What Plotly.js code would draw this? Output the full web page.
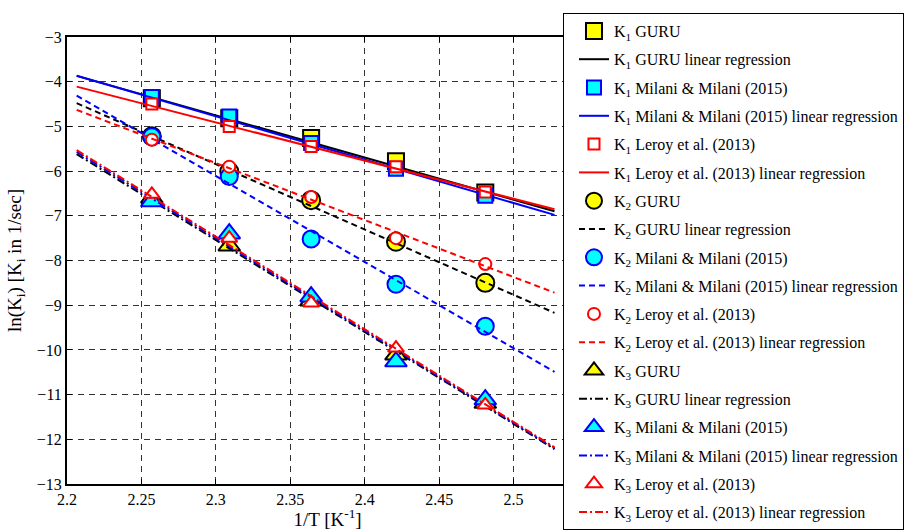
<!DOCTYPE html>
<html>
<head>
<meta charset="utf-8">
<script src="https://cdn.plot.ly/plotly-3.0.1.min.js"></script>
<style>
html,body{margin:0;padding:0;background:#fff;}
#chart{width:904px;height:530px;}
</style>
</head>
<body>
<div id="chart"></div>
<script>
// Inverse temperature (1/T, 10^-3 K^-1)
const invT = [2.257, 2.309, 2.364, 2.421, 2.481];

// ln(K) measured values
const k1Guru   = [-4.37, -4.82, -5.26, -5.78, -6.48];
const k1Milani = [-4.34, -4.78, -5.37, -5.95, -6.55];
const k1Leroy  = [-4.50, -5.00, -5.45, -5.90, -6.47];

const k2Guru   = [-5.22, -6.01, -6.65, -7.58, -8.50];
const k2Milani = [-5.23, -6.12, -7.52, -8.53, -9.47];
const k2Leroy  = [-5.30, -5.90, -6.58, -7.50, -8.08];

const k3Guru   = [-6.60, -7.67, -8.90, -10.11, -11.19];
const k3Milani = [-6.68, -7.40, -8.81, -10.26, -11.11];
const k3Leroy  = [-6.52, -7.50, -8.95, -9.96, -11.23];

// Regression line end points
const fitX = [2.2065, 2.5275];
const k1GuruFit   = [-3.87, -6.90];
const k1MilaniFit = [-3.866, -6.98];
const k1LeroyFit  = [-4.11, -6.855];
const k2GuruFit   = [-4.48, -9.17];
const k2MilaniFit = [-4.31, -10.49];
const k2LeroyFit  = [-4.63, -8.72];
const k3GuruFit   = [-5.62, -12.22];
const k3MilaniFit = [-5.57, -12.20];
const k3LeroyFit  = [-5.53, -12.18];

const labels = [
  'K<sub>1</sub> GURU', 'K<sub>1</sub> GURU linear regression',
  'K<sub>1</sub> Milani &amp; Milani (2015)', 'K<sub>1</sub> Milani &amp; Milani (2015) linear regression',
  'K<sub>1</sub> Leroy et al. (2013)', 'K<sub>1</sub> Leroy et al. (2013) linear regression',
  'K<sub>2</sub> GURU', 'K<sub>2</sub> GURU linear regression',
  'K<sub>2</sub> Milani &amp; Milani (2015)', 'K<sub>2</sub> Milani &amp; Milani (2015) linear regression',
  'K<sub>2</sub> Leroy et al. (2013)', 'K<sub>2</sub> Leroy et al. (2013) linear regression',
  'K<sub>3</sub> GURU', 'K<sub>3</sub> GURU linear regression',
  'K<sub>3</sub> Milani &amp; Milani (2015)', 'K<sub>3</sub> Milani &amp; Milani (2015) linear regression',
  'K<sub>3</sub> Leroy et al. (2013)', 'K<sub>3</sub> Leroy et al. (2013) linear regression'
];

const DASH = '6px,4px';
const DASHDOT = '8px,3px,2px,3px';

function pts(i, y, symbol, size, fill, edge, bw) {
  return {x: invT, y: y, name: labels[i], legendgroup: 'g' + i, mode: 'markers', type: 'scatter',
    marker: {symbol: symbol, size: size, color: fill, line: {color: edge, width: bw}}};
}
function fit(i, y, color, dash) {
  return {x: fitX, y: y, name: labels[i], legendgroup: 'g' + i, mode: 'lines', type: 'scatter',
    line: {color: color, width: 2, dash: dash}};
}

const traces = [
  pts(0, k1Guru, 'square', 16, '#ffff00', '#000000', 2),
  fit(1, k1GuruFit, '#000000', 'solid'),
  pts(2, k1Milani, 'square', 14, '#00ffff', '#0000ff', 2),
  fit(3, k1MilaniFit, '#0000ff', 'solid'),
  pts(4, k1Leroy, 'square', 11, '#ffffff', '#ff0000', 2),
  fit(5, k1LeroyFit, '#ff0000', 'solid'),
  pts(6, k2Guru, 'circle', 18, '#ffff00', '#000000', 2),
  fit(7, k2GuruFit, '#000000', DASH),
  pts(8, k2Milani, 'circle', 17, '#00ffff', '#0000ff', 2),
  fit(9, k2MilaniFit, '#0000ff', DASH),
  pts(10, k2Leroy, 'circle', 12, '#ffffff', '#ff0000', 2),
  fit(11, k2LeroyFit, '#ff0000', DASH),
  pts(12, k3Guru, 'triangle-up', 19, '#ffff00', '#000000', 2),
  fit(13, k3GuruFit, '#000000', DASHDOT),
  pts(14, k3Milani, 'triangle-up', 19, '#00ffff', '#0000ff', 2),
  fit(15, k3MilaniFit, '#0000ff', DASHDOT),
  pts(16, k3Leroy, 'triangle-up', 14, '#ffffff', '#ff0000', 2),
  fit(17, k3LeroyFit, '#ff0000', DASHDOT)
];

function axisCommon() {
  return {
    showline: true, linecolor: '#000', linewidth: 2, mirror: 'ticks',
    ticks: 'inside', ticklen: 5, tickcolor: '#000', tickwidth: 1,
    showgrid: true, gridcolor: '#333333', gridwidth: 1, griddash: '6px,5px',
    zeroline: false
  };
}

const layout = {
  width: 904, height: 530,
  margin: {l: 67, r: 316, t: 37, b: 46, autoexpand: false},
  paper_bgcolor: '#fff', plot_bgcolor: '#fff',
  font: {family: 'Liberation Serif', size: 16, color: '#000000'},
  showlegend: true,
  xaxis: Object.assign(axisCommon(), {
    range: [2.2, 2.55], dtick: 0.05, tick0: 2.2,
    title: {text: '1/T [K<sup>-1</sup>]', standoff: 6}
  }),
  yaxis: Object.assign(axisCommon(), {
    range: [-13, -3], dtick: 1,
    title: {text: 'ln(K<sub>i</sub>) [K<sub>i</sub> in 1/sec]', standoff: 10}
  }),
  legend: {
    x: 0.952, y: 1.0537, xanchor: 'left', yanchor: 'top',
    bgcolor: '#fff', bordercolor: '#000', borderwidth: 1,
    tracegroupgap: 4.5, traceorder: 'grouped',
    maxheight: 600, indentation: 10
  }
};

Plotly.newPlot('chart', traces, layout, {displayModeBar: false, staticPlot: true});
</script>
</body>
</html>
